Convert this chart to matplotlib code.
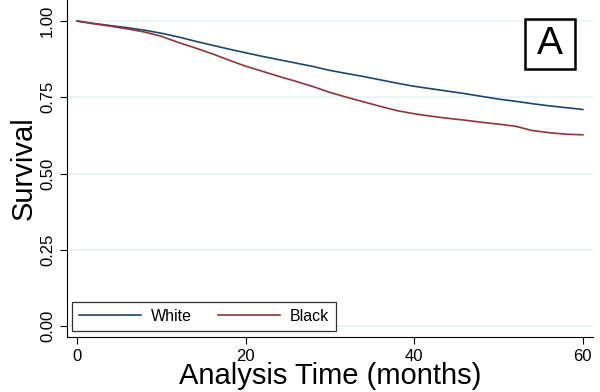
import numpy as np
import matplotlib
matplotlib.use("Agg")
import matplotlib.pyplot as plt
from matplotlib.patches import Rectangle

plt.rcParams['font.family'] = ['Liberation Sans', 'DejaVu Sans']

months = [0, 2, 4, 6, 8, 10, 12, 14, 16, 18, 20, 22, 24, 26, 28, 30,
          32, 34, 36, 38, 40, 42, 44, 46, 48, 50, 52, 54, 56, 58, 60]
white = [1.000, 0.992, 0.985, 0.978, 0.970, 0.960, 0.948, 0.934, 0.921, 0.908,
         0.896, 0.884, 0.873, 0.862, 0.851, 0.838, 0.828, 0.818, 0.807, 0.796,
         0.786, 0.778, 0.770, 0.762, 0.753, 0.744, 0.737, 0.729, 0.722, 0.716, 0.710]
black = [1.000, 0.991, 0.983, 0.974, 0.964, 0.950, 0.930, 0.912, 0.893, 0.872,
         0.852, 0.835, 0.818, 0.802, 0.785, 0.766, 0.750, 0.735, 0.720, 0.706,
         0.696, 0.688, 0.681, 0.675, 0.668, 0.662, 0.655, 0.641, 0.634, 0.629, 0.627]

fig = plt.figure(figsize=(6, 3.92), dpi=100)
ax = fig.add_axes([0.1117, 0.1403, 0.8766, 0.8597])

ax.plot(months, white, color="#1a476f", lw=1.2, label="White")
ax.plot(months, black, color="#90353b", lw=1.2, label="Black")

ax.set_xlim(-1.19, 61.2)
ax.set_ylim(-0.036, 1.069)
ax.set_xticks([0, 20, 40, 60])
ax.set_yticks([0, 0.25, 0.5, 0.75, 1.0])
ax.set_yticklabels(["0.00", "0.25", "0.50", "0.75", "1.00"], rotation=90, va="center")
ax.tick_params(labelsize=12, length=5, width=0.8)
ax.grid(axis="y", color="#eaf2f3", lw=1.2)
ax.set_axisbelow(True)
for s in ["top", "right"]:
    ax.spines[s].set_visible(False)

ax.set_xlabel("Analysis Time (months)", fontsize=21, labelpad=-1)
ax.set_ylabel("Survival", fontsize=21, labelpad=2)

leg = ax.legend(loc="lower left", ncol=2, fontsize=11.5, frameon=True, fancybox=False,
                edgecolor="black", handlelength=3.9, handletextpad=0.6, columnspacing=1.6,
                borderpad=0.45, bbox_to_anchor=(0.0095, 0.018), borderaxespad=0)
leg.get_frame().set_linewidth(0.9)

# panel label box
fig.add_artist(Rectangle((0.875, 0.824), 0.0833, 0.1275, transform=fig.transFigure,
                         fill=False, ec="black", lw=1.8))
fig.text(0.9165, 0.8875, "A", fontsize=28, ha="center", va="center")

fig.savefig("out.png", dpi=100)
